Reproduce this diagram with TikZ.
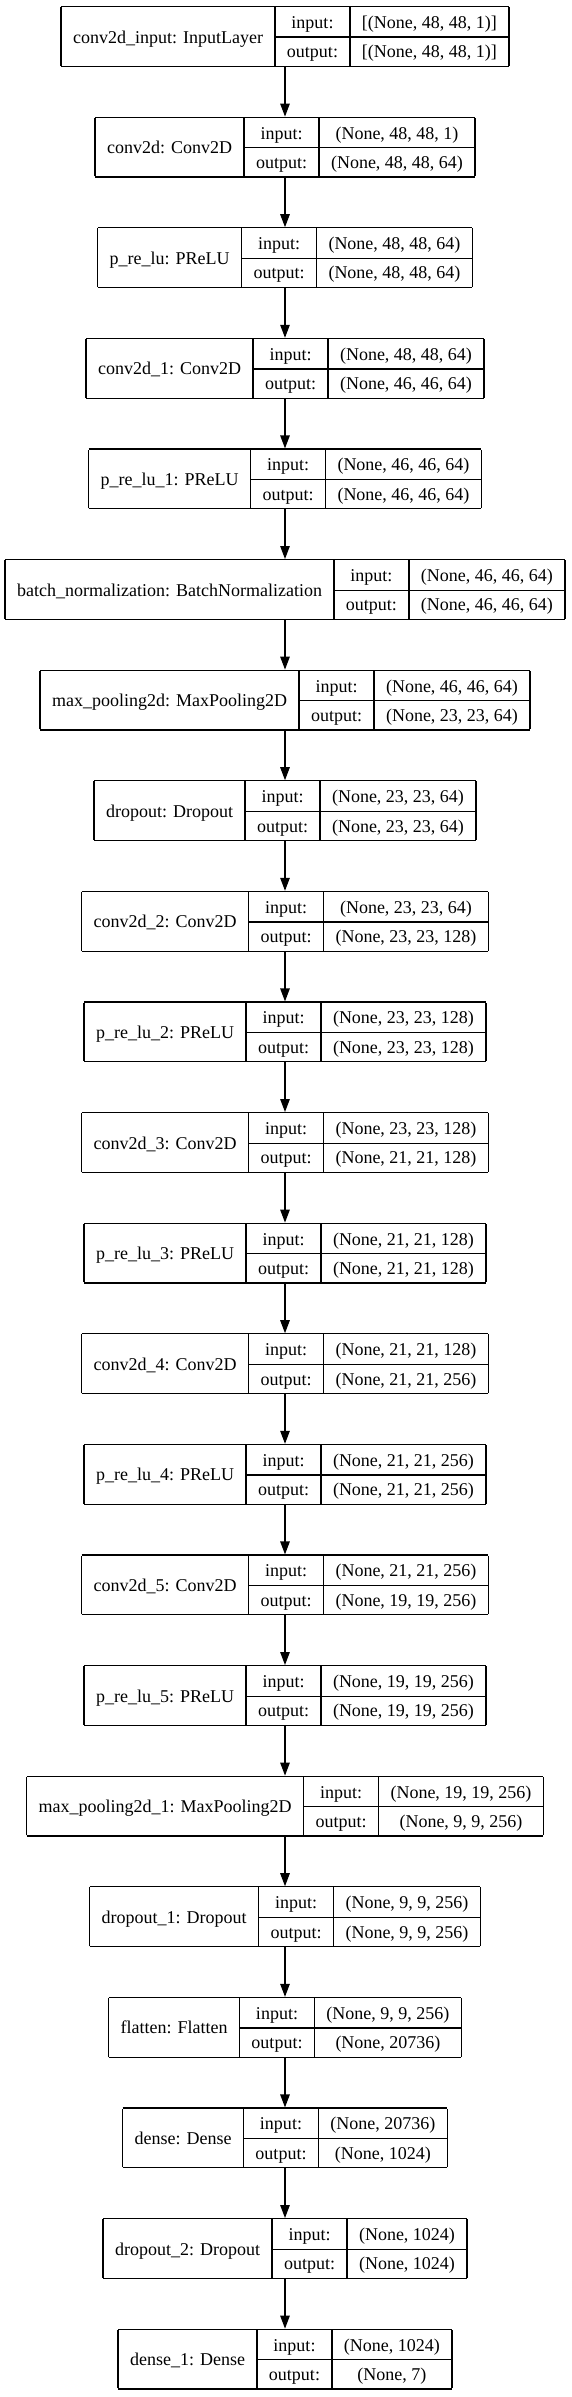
\documentclass[tikz,border=0pt]{standalone}
\usepackage{fontspec}
\setmainfont{Liberation Serif}
\usetikzlibrary{positioning,arrows.meta}

\setlength{\arrayrulewidth}{1.2pt}
\setlength{\tabcolsep}{12pt}
\newcommand{\rowstrut}{\rule[-8pt]{0pt}{29.3pt}}
% one layer: name | input/output | shapes
\newcommand{\layertab}[3]{%
  \begin{tabular}{|c|c|c|}\hline
    \raisebox{-14.65pt}[0pt][0pt]{#1} & input: & #2\rowstrut\\ \cline{2-3}
    & output: & #3\rowstrut\\ \hline
  \end{tabular}}

\begin{document}
\begin{tikzpicture}[x=1pt, y=1pt,
    layer/.style={inner sep=0pt, outer sep=0pt, font=\fontsize{18}{21.6}\selectfont},
    edge/.style={line width=1.2pt, -{Triangle[length=13pt,width=9.5pt]}},
    node distance=110.6pt, on grid]
    \useasboundingbox (0,0) rectangle (571,-2397);

    % Input and first conv block
    \node[layer] (inputlayer) at (285,-36.5) {\layertab{conv2d\_input: InputLayer}{[(None, 48, 48, 1)]}{[(None, 48, 48, 1)]}};
    \node[layer, below=of inputlayer] (conv) {\layertab{conv2d: Conv2D}{(None, 48, 48, 1)}{(None, 48, 48, 64)}};
    \node[layer, below=of conv] (prelu) {\layertab{p\_re\_lu: PReLU}{(None, 48, 48, 64)}{(None, 48, 48, 64)}};
    \node[layer, below=of prelu] (conv1) {\layertab{conv2d\_1: Conv2D}{(None, 48, 48, 64)}{(None, 46, 46, 64)}};
    \node[layer, below=of conv1] (prelu1) {\layertab{p\_re\_lu\_1: PReLU}{(None, 46, 46, 64)}{(None, 46, 46, 64)}};
    \node[layer, below=of prelu1] (bn) {\layertab{batch\_normalization: BatchNormalization}{(None, 46, 46, 64)}{(None, 46, 46, 64)}};
    \node[layer, below=of bn] (pool) {\layertab{max\_pooling2d: MaxPooling2D}{(None, 46, 46, 64)}{(None, 23, 23, 64)}};
    \node[layer, below=of pool] (drop) {\layertab{dropout: Dropout}{(None, 23, 23, 64)}{(None, 23, 23, 64)}};

    % Second conv block
    \node[layer, below=of drop] (conv2) {\layertab{conv2d\_2: Conv2D}{(None, 23, 23, 64)}{(None, 23, 23, 128)}};
    \node[layer, below=of conv2] (prelu2) {\layertab{p\_re\_lu\_2: PReLU}{(None, 23, 23, 128)}{(None, 23, 23, 128)}};
    \node[layer, below=of prelu2] (conv3) {\layertab{conv2d\_3: Conv2D}{(None, 23, 23, 128)}{(None, 21, 21, 128)}};
    \node[layer, below=of conv3] (prelu3) {\layertab{p\_re\_lu\_3: PReLU}{(None, 21, 21, 128)}{(None, 21, 21, 128)}};
    \node[layer, below=of prelu3] (conv4) {\layertab{conv2d\_4: Conv2D}{(None, 21, 21, 128)}{(None, 21, 21, 256)}};
    \node[layer, below=of conv4] (prelu4) {\layertab{p\_re\_lu\_4: PReLU}{(None, 21, 21, 256)}{(None, 21, 21, 256)}};
    \node[layer, below=of prelu4] (conv5) {\layertab{conv2d\_5: Conv2D}{(None, 21, 21, 256)}{(None, 19, 19, 256)}};
    \node[layer, below=of conv5] (prelu5) {\layertab{p\_re\_lu\_5: PReLU}{(None, 19, 19, 256)}{(None, 19, 19, 256)}};
    \node[layer, below=of prelu5] (pool1) {\layertab{max\_pooling2d\_1: MaxPooling2D}{(None, 19, 19, 256)}{(None, 9, 9, 256)}};
    \node[layer, below=of pool1] (drop1) {\layertab{dropout\_1: Dropout}{(None, 9, 9, 256)}{(None, 9, 9, 256)}};

    % Classifier head
    \node[layer, below=of drop1] (flat) {\layertab{flatten: Flatten}{(None, 9, 9, 256)}{(None, 20736)}};
    \node[layer, below=of flat] (dense) {\layertab{dense: Dense}{(None, 20736)}{(None, 1024)}};
    \node[layer, below=of dense] (drop2) {\layertab{dropout\_2: Dropout}{(None, 1024)}{(None, 1024)}};
    \node[layer, below=of drop2] (dense1) {\layertab{dense\_1: Dense}{(None, 1024)}{(None, 7)}};

    % Connections
    \draw[edge] (inputlayer) -- (conv);
    \draw[edge] (conv) -- (prelu);
    \draw[edge] (prelu) -- (conv1);
    \draw[edge] (conv1) -- (prelu1);
    \draw[edge] (prelu1) -- (bn);
    \draw[edge] (bn) -- (pool);
    \draw[edge] (pool) -- (drop);
    \draw[edge] (drop) -- (conv2);
    \draw[edge] (conv2) -- (prelu2);
    \draw[edge] (prelu2) -- (conv3);
    \draw[edge] (conv3) -- (prelu3);
    \draw[edge] (prelu3) -- (conv4);
    \draw[edge] (conv4) -- (prelu4);
    \draw[edge] (prelu4) -- (conv5);
    \draw[edge] (conv5) -- (prelu5);
    \draw[edge] (prelu5) -- (pool1);
    \draw[edge] (pool1) -- (drop1);
    \draw[edge] (drop1) -- (flat);
    \draw[edge] (flat) -- (dense);
    \draw[edge] (dense) -- (drop2);
    \draw[edge] (drop2) -- (dense1);
\end{tikzpicture}
\end{document}
